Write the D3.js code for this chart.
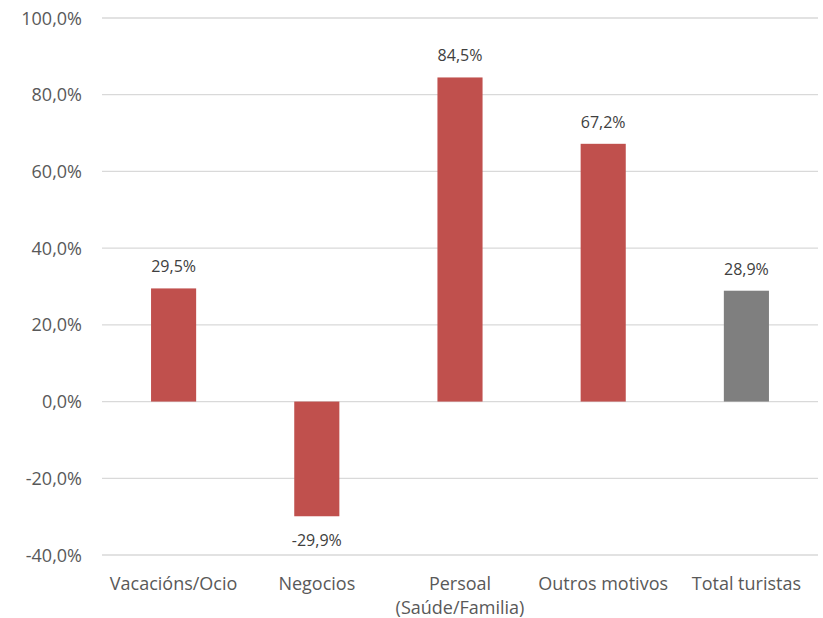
<!DOCTYPE html>
<html><head><meta charset="utf-8">
<script src="https://cdn.jsdelivr.net/npm/d3@7"></script>
<style>body{margin:0;background:#fff}svg text{font-family:"Open Sans","Noto Sans",sans-serif}</style>
</head><body>
<svg id="c" width="823" height="618"></svg>
<script>
const categories = [["Vacacións/Ocio"],["Negocios"],["Persoal","(Saúde/Familia)"],["Outros motivos"],["Total turistas"]];
const values = [29.5, -29.9, 84.5, 67.2, 28.9];
const barColors = ["#C0504D","#C0504D","#C0504D","#C0504D","#7F7F7F"];
const yTicks = [-40,-20,0,20,40,60,80,100];

(function(){
const svg = d3.select("#c");
const mL = 102, mR = 818, mT = 18, mB = 555;
const x = d3.scaleBand().domain(d3.range(values.length)).range([mL,mR]).padding(0);
const y = d3.scaleLinear().domain([-40,100]).range([mB,mT]);
const fmt = v => (v<0?"-":"") + d3.format(".1f")(Math.abs(v)).replace(".",",") + "%";

svg.append("g").selectAll("line").data(yTicks).join("line")
  .attr("x1",mL).attr("x2",mR)
  .attr("y1",d=>y(d)).attr("y2",d=>y(d))
  .attr("stroke","#D9D9D9").attr("stroke-width",1.3);

const yAxis = d3.axisLeft(y).tickValues(yTicks).tickFormat(fmt).tickSize(0).tickPadding(0);
const ga = svg.append("g").attr("transform",`translate(${mL-20},0)`).call(yAxis);
ga.select(".domain").remove();
ga.selectAll("text").attr("fill","#595959").attr("dy","0.34em").style("font-size","18px").style("font-family",'"Open Sans","Noto Sans",sans-serif');

const bw = x.step()*0.315;
svg.append("g").selectAll("rect").data(values).join("rect")
  .attr("x",(d,i)=>x(i)+x.bandwidth()/2-bw/2)
  .attr("width",bw)
  .attr("y",d=>y(Math.max(0,d)))
  .attr("height",d=>Math.abs(y(d)-y(0)))
  .attr("fill",(d,i)=>barColors[i]);

svg.append("g").selectAll("text").data(values).join("text")
  .attr("x",(d,i)=>x(i)+x.bandwidth()/2)
  .attr("y",d=> d>=0 ? y(d)-16 : y(d)+30)
  .attr("text-anchor","middle")
  .attr("fill","#404040").style("font-size","16px")
  .text(fmt);

const xl = svg.append("g").selectAll("text").data(categories).join("text")
  .attr("x",(d,i)=>x(i)+x.bandwidth()/2)
  .attr("y",590)
  .attr("text-anchor","middle")
  .attr("fill","#595959").style("font-size","18px");
xl.selectAll("tspan").data(d=>d).join("tspan")
  .attr("x",function(){return this.parentNode.getAttribute("x");})
  .attr("dy",(d,i)=>i===0?0:24)
  .text(d=>d);
})();
</script>
</body></html>
